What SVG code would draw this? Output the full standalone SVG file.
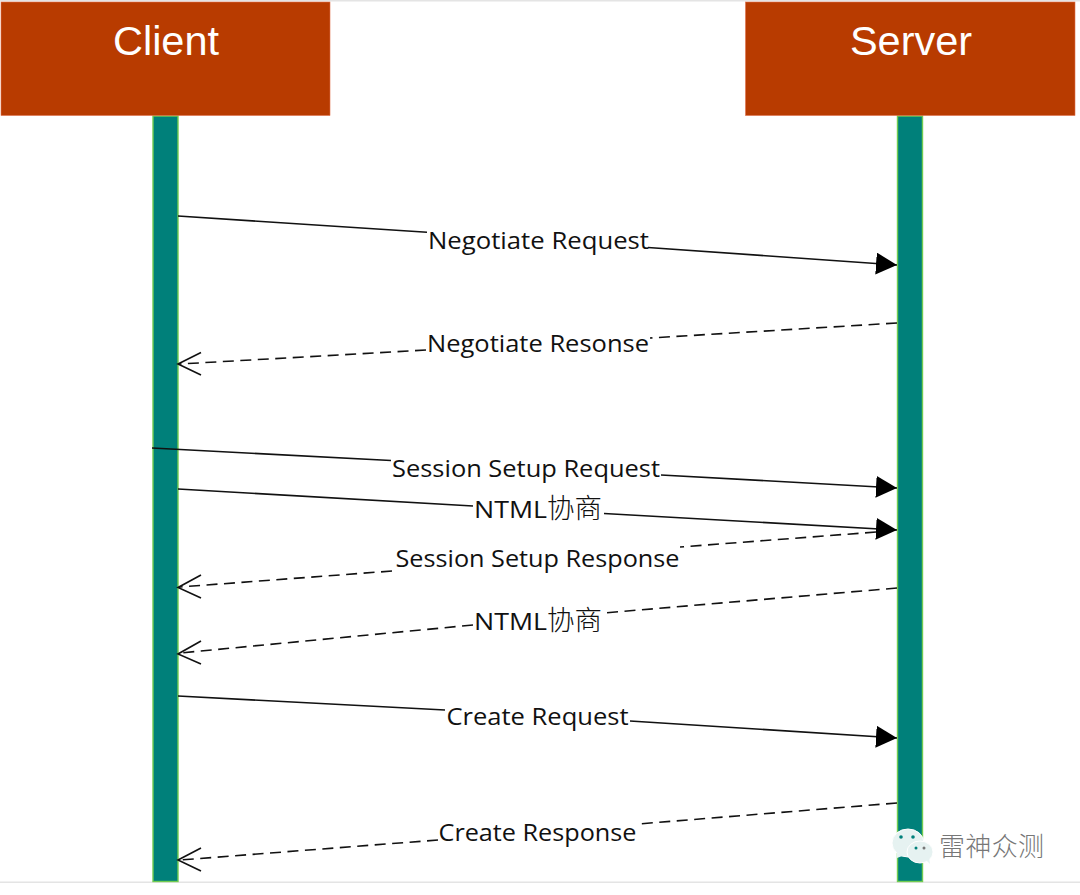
<svg xmlns="http://www.w3.org/2000/svg" width="1080" height="895" viewBox="0 0 1080 895">
<style>
.head{fill:#b83b00;stroke:#e0704a;stroke-width:.6}
.life{fill:#00807a;stroke:#72cc50;stroke-width:1.4}
.ht{font-family:"Liberation Sans",Arial,sans-serif;font-size:41.500px;fill:#fff;text-anchor:middle}
.lb{font-family:"Open Sans","Noto Sans CJK SC",sans-serif;font-size:24px;fill:#111;text-anchor:middle}
.lb2{font-family:"Open Sans","Noto Sans CJK SC",sans-serif;font-size:24px;fill:#111}
.cj{font-family:"Noto Sans CJK SC",sans-serif;font-size:27.500px;font-weight:300}
.s{fill:none;stroke:#111;stroke-width:1.6}
.d{fill:none;stroke:#111;stroke-width:1.6;stroke-dasharray:11 6.500}
.a{fill:none;stroke:#111;stroke-width:1.6}
.wm{font-family:"Noto Sans CJK SC",sans-serif;font-size:26px;fill:#777;font-weight:300}
</style>
<defs>
<marker id="solid" markerUnits="userSpaceOnUse" markerWidth="24" markerHeight="24" refX="21" refY="11" orient="auto"><path d="M0 0L21 11L0 22Z" fill="#000"/></marker>
</defs>
<rect x="0" y="0" width="1080" height="895" fill="#fff"/>
<rect x="0" y="0" width="1080" height="1.5" fill="#e4e4e4"/>
<rect x="0" y="881.500" width="1080" height="1.5" fill="#e4e4e4"/>
<g id="client">
<rect class="life" x="153" y="116" width="25" height="765.5"/>
<rect class="head" x="1" y="2" width="329" height="113.500"/>
<text class="ht" x="166" y="55">Client</text>
</g>
<g id="server">
<rect class="life" x="897.500" y="116" width="25" height="765.5"/>
<rect class="head" x="745.500" y="2" width="329.500" height="113.500"/>
<text class="ht" x="911" y="55">Server</text>
</g>
<g id="connectors">
<path class="s" d="M178 216L427 232.300M648 247.500L897 265" marker-end="url(#solid)"/>
<path class="d" d="M897 323L650 338"/>
<path class="d" d="M426 350L180 364"/>
<path class="a" d="M201 352.500L178 364L201 375"/>
<path class="s" d="M152 448L391 460.500M661 475L897 488" marker-end="url(#solid)"/>
<path class="s" d="M178 489L473 506M604 513.500L897 530" marker-end="url(#solid)"/>
<path class="d" d="M876 532L680 547"/>
<path class="d" d="M392 571L180 587"/>
<path class="a" d="M201 575L178 587.500L201 598"/>
<path class="d" d="M897 588L604 613"/>
<path class="d" d="M473 625L180 653"/>
<path class="a" d="M201 641L178 654L201 664"/>
<path class="s" d="M178 696L445 710M630 721L897 738" marker-end="url(#solid)"/>
<path class="d" d="M897 803L638 824"/>
<path class="d" d="M438 840L180 860"/>
<path class="a" d="M201 848L178 860L201 871"/>
</g>
<g id="labels">
<text class="lb" x="538.500" y="249" textLength="221" lengthAdjust="spacingAndGlyphs">Negotiate Request</text>
<text class="lb" x="538" y="352" textLength="222" lengthAdjust="spacingAndGlyphs">Negotiate Resonse</text>
<text class="lb" x="526" y="477" textLength="268" lengthAdjust="spacingAndGlyphs">Session Setup Request</text>
<text class="lb2" x="474" y="518"><tspan textLength="73" lengthAdjust="spacingAndGlyphs">NTML</tspan><tspan class="cj" x="547">协商</tspan></text>
<text class="lb" x="537.500" y="567" textLength="284" lengthAdjust="spacingAndGlyphs">Session Setup Response</text>
<text class="lb2" x="474" y="630"><tspan textLength="73" lengthAdjust="spacingAndGlyphs">NTML</tspan><tspan class="cj" x="547">协商</tspan></text>
<text class="lb" x="537.500" y="725" textLength="182" lengthAdjust="spacingAndGlyphs">Create Request</text>
<text class="lb" x="537.500" y="841" textLength="198" lengthAdjust="spacingAndGlyphs">Create Response</text>
</g>
<g id="watermark">
<ellipse cx="908" cy="843" rx="16" ry="14" fill="#e6f2f1" stroke="#fff"/>
<path d="M897 853L897 858L905 855Z" fill="#e6f2f1"/>
<circle cx="901" cy="837" r="1.800" fill="#00807a"/>
<circle cx="913" cy="837" r="1.800" fill="#00807a"/>
<ellipse cx="920" cy="852" rx="13" ry="11" fill="#e6f2f1" stroke="#fff"/>
<path d="M926 860L930 864L929 857Z" fill="#e6f2f1"/>
<circle cx="916" cy="848" r="1.500" fill="#00807a"/>
<circle cx="924" cy="848" r="1.500" fill="#777"/>
<text class="wm" x="939" y="856" textLength="105">雷神众测</text>
</g>
</svg>
